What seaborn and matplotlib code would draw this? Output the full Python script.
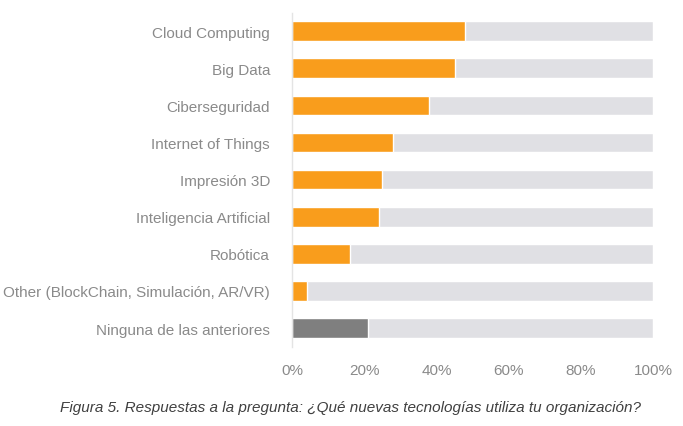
import numpy as np
import pandas as pd
import matplotlib
matplotlib.use("Agg")
import matplotlib.pyplot as plt
import seaborn as sns
from matplotlib.ticker import PercentFormatter

# Datos (%)
tecnologias = [
    "Cloud Computing",
    "Big Data",
    "Ciberseguridad",
    "Internet of Things",
    "Impresión 3D",
    "Inteligencia Artificial",
    "Robótica",
    "Other (BlockChain, Simulación, AR/VR)",
    "Ninguna de las anteriores",
]
porcentajes = [48, 45, 38, 28, 25, 24, 16, 4, 21]
total = [100] * len(tecnologias)
ticks = [0, 20, 40, 60, 80, 100]

naranja = "#F99D1C"
gris_oscuro = "#7F7F7F"
colores = [naranja] * 8 + [gris_oscuro]

df = pd.DataFrame({"tecnologia": tecnologias, "valor": porcentajes, "total": total})

sns.set_style("white")
plt.rcParams["font.family"] = ["Liberation Sans Narrow", "Liberation Sans", "DejaVu Sans"]

fig = plt.figure(figsize=(6.83, 4.27), dpi=100)
ax = fig.add_axes([0.428, 0.186, 0.528, 0.782])

# barras de fondo (100%)
sns.barplot(data=df, x="total", y="tecnologia", color="#E0E0E4", width=0.53,
            orient="h", ax=ax, errorbar=None, saturation=1)
# barras con los valores
sns.barplot(data=df, x="valor", y="tecnologia", hue="tecnologia", palette=colores,
            width=0.53, orient="h", ax=ax, errorbar=None, legend=False, saturation=1)

ax.set_xlim(0, 100)
ax.set_ylim(len(tecnologias) - 0.5, -0.5)
ax.set_xticks(ticks)
ax.xaxis.set_major_formatter(PercentFormatter(decimals=0))
ax.set_xlabel("")
ax.set_ylabel("")
ax.tick_params(axis="both", length=0, colors="#8A8A8A", labelsize=11)
ax.tick_params(axis="x", pad=12)
ax.tick_params(axis="y", pad=16)

for s in ["top", "right", "bottom"]:
    ax.spines[s].set_visible(False)
ax.spines["left"].set_color("#E4E4E4")
ax.spines["left"].set_linewidth(1)

fig.text(0.513, 0.045, "Figura 5. Respuestas a la pregunta: ¿Qué nuevas tecnologías utiliza tu organización?",
         ha="center", va="center", fontsize=11, style="italic", color="#404040")

fig.savefig("out.png", dpi=100)
